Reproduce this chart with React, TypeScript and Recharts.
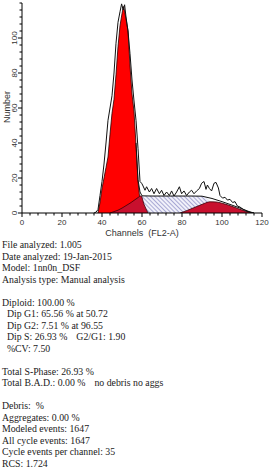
import React from 'react';
import { ComposedChart, Area, Line, XAxis, YAxis } from 'recharts';

// G1 peak (bright red)
const g1Channels = [38, 39, 40, 41, 42, 43, 44, 45, 46, 47, 48, 49, 50, 50.7, 51, 52, 53, 54, 55, 56, 57, 58, 59, 60];
const g1Counts = [0, 6, 14, 20, 26, 32, 45, 57, 65, 79, 95, 107, 114, 118, 117, 111, 104, 84, 68, 58, 39, 18, 7, 0];

// S-phase part lying under G1 (dark red)
const sLeftChannels = [44, 46, 48, 50, 52, 54, 56, 58, 59.5, 61, 63];
const sLeftCounts = [0, 0.8, 1.6, 2.8, 4.2, 5.6, 7.2, 8.8, 9.8, 5, 0];

// S-phase (hatched)
const sChannels = [57, 59.5, 64, 70, 80, 90, 92, 93.5, 95];
const sCounts = [7.5, 9.7, 9.7, 9.7, 9.7, 9.7, 8.8, 7.2, 0];

// G2 peak (dark red)
const g2Channels = [79, 82, 85, 88, 91, 94, 97, 100, 103, 106, 109, 112, 115];
const g2Counts = [0, 1.2, 2.6, 4, 5.4, 6.4, 6.3, 5.6, 4.6, 3.4, 2.1, 0.9, 0];

// model fit outline
const fitChannels = [57, 58, 59, 60, 65, 70, 75, 80, 85, 90, 95, 100, 105, 110, 114, 116];
const fitCounts = [40, 19, 12, 9.8, 9.7, 9.7, 9.7, 9.7, 9.7, 9.6, 8.3, 6.5, 4.5, 2.4, 0.6, 0];

// raw histogram
const dataChannels = [
  36, 37, 38, 39, 40, 41, 42, 43, 44, 45, 46, 47, 48, 49, 49.8, 50.6, 51.3, 52, 53, 54, 55, 56, 57, 58, 59,
  59.8, 60.3, 61.5, 62.3, 63.7, 64.8, 66, 67.3, 68.7, 69.8, 71, 72.3, 73.7, 74.8, 76, 77.3, 78.7, 79.8,
  81, 82.3, 83.7, 84.8, 86, 87.3, 88.7, 89.8, 91, 92, 92.7, 93.7, 94.8, 96, 97, 98.2, 99, 100.3, 101.5,
  102.7, 104, 105.3, 106.5, 107.7, 109, 110.7, 112.3, 114, 116,
];
const dataCounts = [
  0, 0.5, 2, 10, 18, 28, 40, 53, 60, 67, 80, 97, 109, 115, 119.5, 116, 119, 112, 104, 91, 76, 64, 53, 37, 18,
  17, 16, 13, 15, 12, 14, 11, 14, 11, 13, 10, 12, 10, 12.6, 9.7, 12, 15, 11,
  12.6, 10, 12, 13, 11, 12.6, 14, 17, 18, 13.5, 16, 14, 12.6, 17, 17.5, 14.3, 10, 8.5, 9,
  7.4, 7.8, 6, 6.5, 4, 3.4, 2, 1, 0.5, 0,
];

const xTicks = [0, 4, 8, 12, 16, 20, 24, 28, 32, 36, 40, 44, 48, 52, 56, 60, 64, 68, 72, 76, 80, 84, 88, 92, 96, 100, 104, 108, 112, 116, 120];
const yTicks = [0, 4, 8, 12, 16, 20, 24, 28, 32, 36, 40, 44, 48, 52, 56, 60, 64, 68, 72, 76, 80, 84, 88, 92, 96, 100, 104, 108, 112, 116, 120];

const reportLines = [
  'File analyzed: 1.005',
  'Date analyzed: 19-Jan-2015',
  'Model: 1nn0n_DSF',
  'Analysis type: Manual analysis',
  '',
  'Diploid: 100.00 %',
  '  Dip G1: 65.56 % at 50.72',
  '  Dip G2: 7.51 % at 96.55',
  '  Dip S: 26.93 %|G2/G1: 1.90',
  '  %CV: 7.50',
  '',
  'Total S-Phase: 26.93 %',
  'Total B.A.D.: 0.00 %|no debris no aggs',
  '',
  'Debris:  %',
  'Aggregates: 0.00 %',
  'Modeled events: 1647',
  'All cycle events: 1647',
  'Cycle events per channel: 35',
  'RCS: 1.724',
];

const toRows = (chs: number[], vals: number[]) => chs.map((ch, i) => ({ ch, v: vals[i] }));

const g1Data = toRows(g1Channels, g1Counts);
const sLeftData = toRows(sLeftChannels, sLeftCounts);
const sData = toRows(sChannels, sCounts);
const g2Data = toRows(g2Channels, g2Counts);
const fitData = toRows(fitChannels, fitCounts);
const histData = toRows(dataChannels, dataCounts);

const axisFont = 'Liberation Sans, Arial, sans-serif';

const XTick = (props: any) => {
  const { x, y, payload } = props;
  const major = payload.value % 20 === 0;
  return (
    <g>
      <line x1={x} y1={y} x2={x} y2={y + (major ? 4 : 2.5)} stroke="#000" strokeWidth={1} />
      {major && (
        <text x={x} y={y + 12} textAnchor="middle" fontSize={8} fill="#333" fontFamily={axisFont}>
          {payload.value}
        </text>
      )}
    </g>
  );
};

const YTick = (props: any) => {
  const { x, y, payload } = props;
  const major = payload.value % 20 === 0 && payload.value < 120;
  return (
    <g>
      <line x1={x - (major ? 4 : 2.5)} y1={y} x2={x} y2={y} stroke="#000" strokeWidth={1} />
      {major && (
        <text
          x={16.5}
          y={y}
          textAnchor="middle"
          fontSize={8}
          fill="#333"
          fontFamily={axisFont}
          transform={`rotate(-90, 16.5, ${y})`}
        >
          {payload.value}
        </text>
      )}
    </g>
  );
};

const YTitle = (props: any) => {
  const vb = props.viewBox || { x: 0, y: 3, width: 22, height: 210 };
  const cy = vb.y + vb.height / 2 - 1;
  return (
    <text x={9.5} y={cy} textAnchor="middle" fontSize={9} fill="#333" fontFamily={axisFont} transform={`rotate(-90, 9.5, ${cy})`}>
      Number
    </text>
  );
};

const XTitle = (props: any) => {
  const vb = props.viewBox || { x: 22, y: 213, width: 240, height: 27 };
  return (
    <text x={vb.x + vb.width / 2} y={vb.y + 22.5} textAnchor="middle" fontSize={9} fill="#333" fontFamily={axisFont}>
      {'Channels\u00a0\u00a0(FL2-A)'}
    </text>
  );
};

export default function App() {
  return (
    <div style={{ position: 'absolute', left: 0, top: 0, width: 280, height: 469, background: '#fff' }}>
      <ComposedChart width={280} height={240} margin={{ top: 3, right: 18, bottom: 0, left: 0 }}>
        <defs>
          <pattern id="hatch" width={3} height={3} patternUnits="userSpaceOnUse" patternTransform="rotate(-45)">
            <rect width={3} height={3} fill="#f1f1fa" />
            <line x1={0} y1={0} x2={0} y2={3} stroke="#6e6eb4" strokeWidth={1.1} />
          </pattern>
        </defs>
        <XAxis
          type="number"
          dataKey="ch"
          domain={[0, 120]}
          ticks={xTicks}
          interval={0}
          tick={<XTick />}
          tickLine={false}
          tickSize={0}
          tickMargin={0}
          height={27}
          stroke="#000"
          allowDataOverflow
          label={<XTitle />}
        />
        <YAxis
          type="number"
          dataKey="v"
          domain={[0, 120]}
          ticks={yTicks}
          interval={0}
          tick={<YTick />}
          tickLine={false}
          tickSize={0}
          tickMargin={0}
          width={22}
          stroke="#000"
          allowDataOverflow
          label={<YTitle />}
        />
        <Area data={sData} dataKey="v" type="linear" fill="url(#hatch)" fillOpacity={1} stroke="none" isAnimationActive={false} />
        <Area data={g1Data} dataKey="v" type="linear" fill="#ff0000" fillOpacity={1} stroke="#2a0000" strokeWidth={0.8} isAnimationActive={false} />
        <Area data={sLeftData} dataKey="v" type="monotone" fill="#c8102e" fillOpacity={1} stroke="#3a0008" strokeWidth={0.8} isAnimationActive={false} />
        <Area data={g2Data} dataKey="v" type="monotone" fill="#c8102e" fillOpacity={1} stroke="#3a0008" strokeWidth={0.8} isAnimationActive={false} />
        <Line data={fitData} dataKey="v" type="linear" stroke="#111" strokeWidth={1} dot={false} isAnimationActive={false} />
        <Line data={histData} dataKey="v" type="linear" stroke="#111" strokeWidth={1} dot={false} isAnimationActive={false} />
      </ComposedChart>
      <div
        style={{
          position: 'absolute',
          left: 2,
          top: 239,
          fontFamily: 'Liberation Serif, Times New Roman, serif',
          fontSize: 9.8,
          lineHeight: '11.5px',
          color: '#1a1a1a',
          whiteSpace: 'pre',
        }}
      >
        {reportLines.map((line, i) => {
          const parts = line.split('|');
          return (
            <div key={i} style={{ height: 11.5 }}>
              {parts[0]}
              {parts[1] && <span style={{ marginLeft: 9 }}>{parts[1]}</span>}
            </div>
          );
        })}
      </div>
    </div>
  );
}
